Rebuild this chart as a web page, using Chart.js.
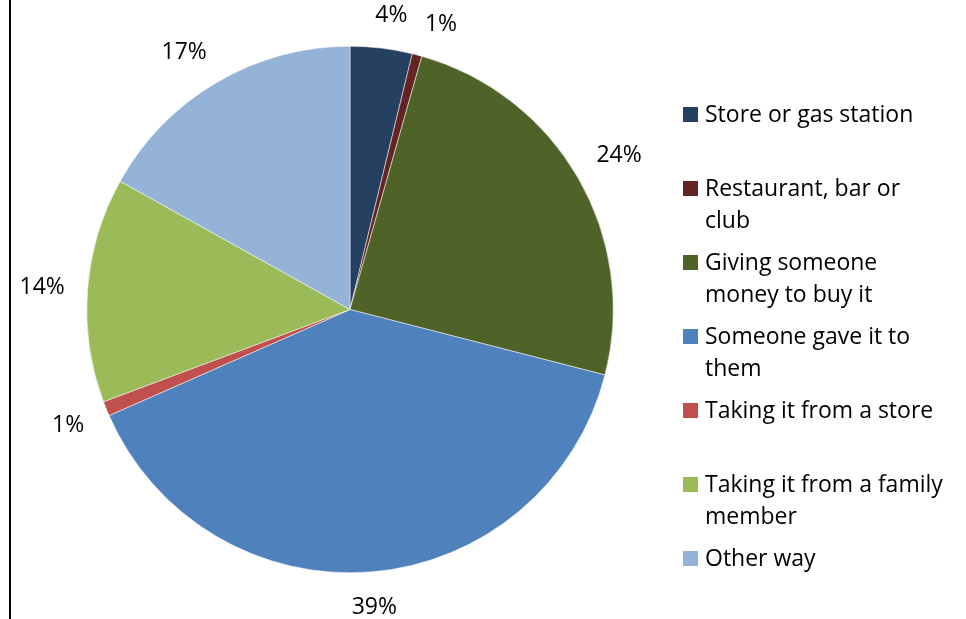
<!DOCTYPE html>
<html>
<head>
<meta charset="utf-8">
<script src="https://cdn.jsdelivr.net/npm/chart.js@4.4.1/dist/chart.umd.min.js"></script>
<style>
  body { margin: 0; background: #fff; }
  #wrap { width: 966px; height: 619px; position: relative; }
</style>
</head>
<body>
<div id="wrap"><canvas id="pieChart"></canvas></div>
<script>
// data
const categories = [
  "Store or gas station",
  "Restaurant, bar or club",
  "Giving someone money to buy it",
  "Someone gave it to them",
  "Taking it from a store",
  "Taking it from a family member",
  "Other way",
];
const shares = [3.8, 0.6, 24.6, 39.4, 0.9, 13.8, 16.9];
const shareLabels = ["4%", "1%", "24%", "39%", "1%", "14%", "17%"];
const legendLines = [
  ["Store or gas station"],
  ["Restaurant, bar or", "club"],
  ["Giving someone", "money to buy it"],
  ["Someone gave it to", "them"],
  ["Taking it from a store"],
  ["Taking it from a family", "member"],
  ["Other way"],
];
const colors = ["#254061", "#632523", "#4F6228", "#4F81BD", "#C0504D", "#9BBB59", "#95B3D7"];

const FONT = "23px 'Open Sans', Lato, sans-serif";

// left frame line
const framePlugin = {
  id: "frame",
  beforeDraw(chart) {
    const ctx = chart.ctx;
    ctx.save();
    ctx.fillStyle = "#000";
    ctx.fillRect(9, 0, 2, chart.height);
    ctx.restore();
  },
};

// percentage labels outside each slice
const outsideLabels = {
  id: "outsideLabels",
  afterDatasetsDraw(chart) {
    const ctx = chart.ctx;
    const arcs = chart.getDatasetMeta(0).data;
    ctx.save();
    ctx.font = FONT;
    ctx.fillStyle = "#000";
    ctx.textAlign = "center";
    ctx.textBaseline = "middle";
    arcs.forEach((arc, i) => {
      // nudge the two tiny slices apart like Excel does
      let mid = (arc.startAngle + arc.endAngle) / 2;
      if (i === 0) mid += 0.02;
      if (i === 1) mid += 0.05;
      if (i === 6) mid -= 0.04;
      const w = ctx.measureText(shareLabels[i]).width;
      const h = 22;
      const c = Math.cos(mid), s = Math.sin(mid);
      const r = arc.outerRadius + 22 + Math.abs(s) * h / 2 + Math.abs(c) * w / 2;
      ctx.fillText(shareLabels[i], arc.x + c * r, arc.y + s * r + 1);
    });
    ctx.restore();
  },
};

// legend on the right with wrapped text
const sideLegend = {
  id: "sideLegend",
  afterDraw(chart) {
    const ctx = chart.ctx;
    ctx.save();
    ctx.font = FONT;
    ctx.textAlign = "left";
    ctx.textBaseline = "alphabetic";
    legendLines.forEach((lines, i) => {
      const top = 107 + i * 74;
      ctx.fillStyle = colors[i];
      ctx.fillRect(683, top, 15, 15);
      ctx.fillStyle = "#000";
      lines.forEach((t, j) => {
        ctx.fillText(t, 705, top + 15 + j * 31.5);
      });
    });
    ctx.restore();
  },
};

new Chart(document.getElementById("pieChart"), {
  type: "pie",
  data: {
    labels: categories,
    datasets: [
      {
        data: shares,
        backgroundColor: colors,
        borderColor: "#ffffff",
        borderWidth: 0.5,
      },
    ],
  },
  options: {
    responsive: true,
    maintainAspectRatio: false,
    animation: false,
    layout: {
      padding: { left: 86.5, right: 352.5, top: 46, bottom: 46 },
    },
    plugins: {
      legend: { display: false },
      tooltip: { enabled: false },
    },
  },
  plugins: [framePlugin, outsideLabels, sideLegend],
});
</script>
</body>
</html>
